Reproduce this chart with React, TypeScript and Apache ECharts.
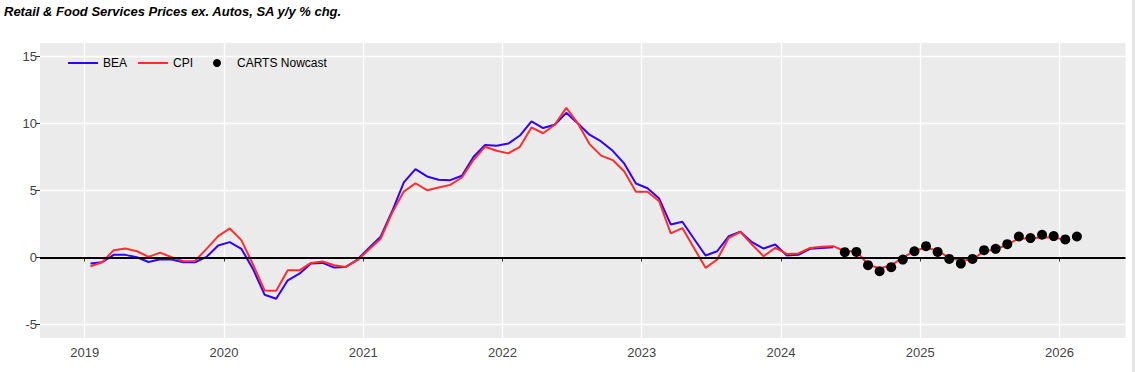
import React, { useEffect, useRef } from "react";
import * as echarts from "echarts";

// Monthly series, first value = Jan 2019
const START_YEAR = 2019;
const bea = [
  -0.45, -0.35, 0.2, 0.2, 0.02, -0.33, -0.12, -0.15, -0.35, -0.35, 0.05, 0.9,
  1.15, 0.65, -0.85, -2.77, -3.07, -1.7, -1.2, -0.45, -0.4, -0.75, -0.7, -0.15,
  0.72, 1.55, 3.47, 5.6, 6.6, 6.05, 5.8, 5.77, 6.1, 7.5, 8.4, 8.34,
  8.5, 9.1, 10.16, 9.66, 9.9, 10.79, 10.0, 9.16, 8.66, 7.96, 7.0, 5.52,
  5.17, 4.4, 2.47, 2.67, 1.4, 0.15, 0.47, 1.6, 1.92, 1.15, 0.67, 0.97,
  0.15, 0.2, 0.65, 0.72, 0.77,
];
const cpi = [
  -0.65, -0.35, 0.55, 0.67, 0.47, 0.05, 0.37, 0.02, -0.27, -0.25, 0.65, 1.6,
  2.17, 1.3, -0.52, -2.45, -2.47, -0.95, -0.95, -0.4, -0.3, -0.57, -0.7, -0.2,
  0.6, 1.4, 3.35, 4.92, 5.54, 5.02, 5.22, 5.42, 5.97, 7.27, 8.26, 7.96,
  7.77, 8.26, 9.7, 9.27, 9.9, 11.16, 10.0, 8.46, 7.6, 7.27, 6.42, 4.9,
  4.9, 4.2, 1.8, 2.2, 0.72, -0.77, -0.15, 1.47, 1.92, 0.97, 0.1, 0.72,
  0.27, 0.3, 0.72, 0.8, 0.85, 0.47, 0.47, -0.52, -0.82, -0.57, -0.03, 0.52,
  0.72, 0.52, -0.03, -0.22, -0.15, 0.47, 0.6, 0.97, 1.42, 1.42, 1.52, 1.47,
  1.35,
];
// CARTS nowcast, first value = Jun 2024 (month index 65)
const NOWCAST_START = 65;
const nowcast = [
  0.4, 0.42, -0.57, -1.02, -0.72, -0.15, 0.47, 0.85, 0.42, -0.1, -0.45, -0.1,
  0.55, 0.65, 1.0, 1.57, 1.45, 1.7, 1.6, 1.35, 1.57,
];
const xTicks = [2019, 2020, 2021, 2022, 2023, 2024, 2025, 2026];
const yTicks = [-5, 0, 5, 10, 15];

// mid-month position on a decimal-year axis
const monthPos = (i: number) =>
  START_YEAR + Math.floor(i / 12) + ((i % 12) + 0.5) / 12;

const FONT = "'Liberation Sans', Arial, sans-serif";
const BLUE = "#3300ff";
const RED = "#ff2d2d";

const legendBase = {
  top: 57,
  padding: 0,
  itemWidth: 30,
  itemHeight: 8,
  textStyle: { fontFamily: FONT, fontSize: 12, color: "#000" },
};

export default function App() {
  const ref = useRef<HTMLDivElement>(null);
  useEffect(() => {
    if (!ref.current) return;
    const chart = echarts.init(ref.current, undefined, { renderer: "svg" });
    chart.setOption({
      animation: false,
      backgroundColor: "#ffffff",
      textStyle: { fontFamily: FONT },
      title: {
        text: "Retail & Food Services Prices ex. Autos, SA y/y % chg.",
        left: 4,
        top: 5,
        padding: 0,
        textStyle: {
          fontFamily: FONT,
          fontSize: 13,
          fontWeight: "bold",
          fontStyle: "italic",
          color: "#000",
        },
      },
      legend: [
        {
          ...legendBase,
          left: 67,
          data: [{ name: "BEA", itemStyle: { opacity: 0 } }],
        },
        {
          ...legendBase,
          left: 137,
          data: [{ name: "CPI", itemStyle: { opacity: 0 } }],
        },
        {
          ...legendBase,
          left: 213,
          data: [{ name: "CARTS Nowcast" }],
        },
      ],
      graphic: [
        {
          type: "rect",
          shape: { x: 1132, y: 0, width: 3, height: 372 },
          style: { fill: "#e4e4e4" },
          silent: true,
        },
      ],
      grid: {
        left: 40,
        right: 12.5,
        top: 43,
        height: 295,
        show: true,
        backgroundColor: "#ebebeb",
        borderWidth: 0,
        outerBoundsMode: "none",
      },
      xAxis: {
        type: "value",
        min: 2018.679,
        max: 2026.474,
        axisLine: { show: false },
        axisTick: {
          show: true,
          customValues: xTicks,
          length: 4,
          lineStyle: { color: "#333", width: 1 },
        },
        axisLabel: {
          customValues: xTicks,
          formatter: (v: number) => String(v),
          color: "#444",
          fontSize: 13,
          fontFamily: FONT,
          margin: 8,
        },
        splitLine: { show: true, lineStyle: { color: "#ffffff", width: 1.3 } },
      },
      yAxis: {
        type: "value",
        min: -6,
        max: 16,
        axisLine: { show: false },
        axisTick: {
          show: true,
          customValues: yTicks,
          length: 4,
          lineStyle: { color: "#333", width: 1 },
        },
        axisLabel: {
          customValues: yTicks,
          color: "#444",
          fontSize: 13,
          fontFamily: FONT,
          margin: 3,
        },
        splitLine: { show: true, lineStyle: { color: "#ffffff", width: 1.3 } },
      },
      series: [
        {
          name: "BEA",
          type: "line",
          symbol: "none",
          data: bea.map((v, i) => [monthPos(i), v]),
          lineStyle: { color: BLUE, width: 2 },
          itemStyle: { color: BLUE },
          z: 3,
          markLine: {
            silent: true,
            symbol: "none",
            label: { show: false },
            lineStyle: { color: "#000", width: 2, type: "solid" },
            data: [{ yAxis: 0 }],
          },
        },
        {
          name: "CPI",
          type: "line",
          symbol: "none",
          data: cpi.map((v, i) => [monthPos(i), v]),
          lineStyle: { color: RED, width: 2 },
          itemStyle: { color: RED },
          z: 4,
        },
        {
          name: "CARTS Nowcast",
          type: "scatter",
          symbol: "circle",
          symbolSize: 10,
          data: nowcast.map((v, i) => [monthPos(i + NOWCAST_START), v]),
          itemStyle: { color: "#000", opacity: 1 },
          z: 5,
        },
      ],
    });
    return () => chart.dispose();
  }, []);
  return (
    <div
      ref={ref}
      style={{ position: "absolute", left: 0, top: 0, width: 1138, height: 372 }}
    />
  );
}
